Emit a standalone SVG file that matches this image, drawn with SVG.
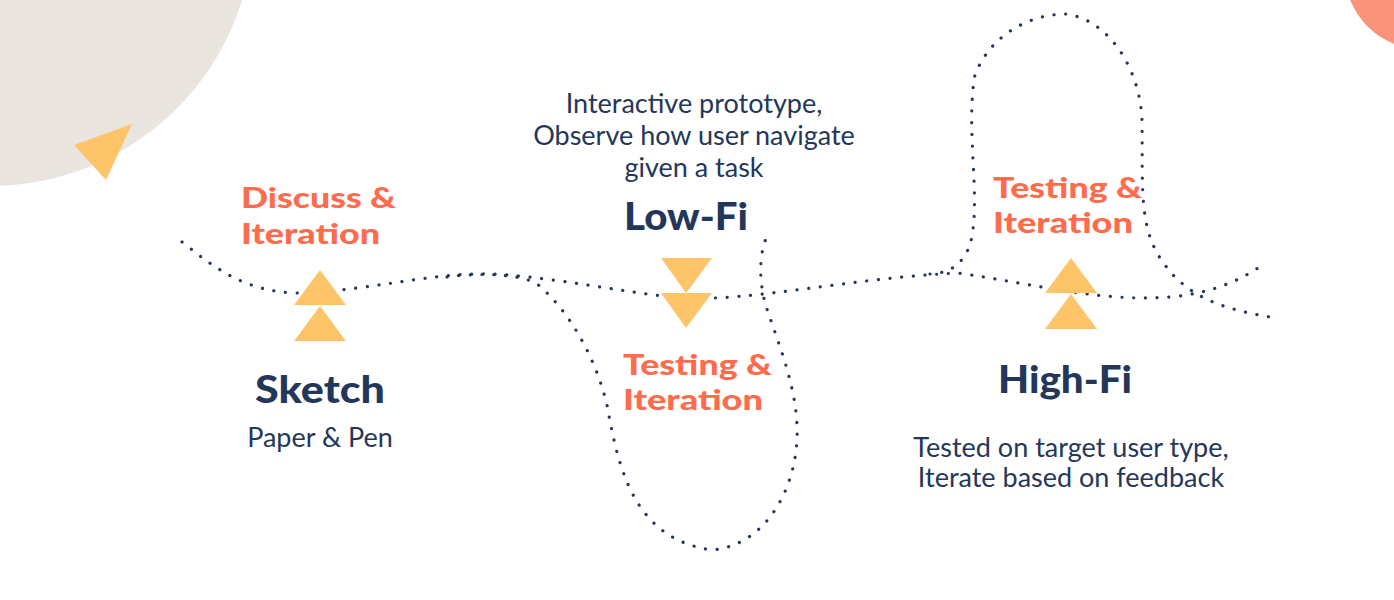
<svg xmlns="http://www.w3.org/2000/svg" width="1394" height="600" viewBox="0 0 1394 600">
<style>
.dot{fill:none;stroke:#24375a;stroke-width:3.2;stroke-linecap:round;stroke-dasharray:0.1 11.6}
.tri{fill:#fec46a}
.head{font-family:Lato,"Liberation Sans",sans-serif;font-weight:900;fill:#24375a;font-size:37px}
.lab{font-family:Lato,"Liberation Sans",sans-serif;font-weight:900;fill:#ff6b4d;font-size:29px}
.body{font-family:Lato,"Liberation Sans",sans-serif;font-weight:400;fill:#24375a;font-size:27px}
</style>
<rect width="1394" height="600" fill="#ffffff"/>
<g id="decor">
<circle cx="-10" cy="-78" r="264" fill="#eae6df"/>
<circle cx="1422" cy="-28" r="77" fill="#f9937a"/>
<polygon points="74,145 132,124 106,180" fill="#fec46a"/>
</g>
<g id="connectors">
<path class="dot" d="M182,242 C215,268 245,292 298,293 C370,291 430,272 493,274 C560,278 620,292 680,298 C750,302 850,278 958,273 C1040,285 1100,302 1170,297 C1215,293 1245,278 1265,263"/>
<path class="dot" d="M447,277 C475,273 515,273 536,283 C575,315 600,370 608,410 C620,480 640,540 712,550 C770,545 800,480 797,425 C795,380 775,335 765,303 C758,275 760,250 768,234"/>
<path class="dot" d="M930,274 C950,273 962,265 970,245 C982,200 965,130 975,75 C990,35 1030,14 1066,14 C1110,20 1140,70 1142,120 C1143,190 1138,230 1165,265 C1190,300 1230,310 1270,317"/>
</g>
<g id="node-sketch">
<polygon class="tri" points="320,270 346,305 294,305"/>
<polygon class="tri" points="320,306 346,341 294,341"/>
<text class="lab" x="241" y="208" textLength="155" lengthAdjust="spacingAndGlyphs">Discuss &amp;</text>
<text class="lab" x="241" y="244" textLength="139" lengthAdjust="spacingAndGlyphs">Iteration</text>
<text class="head" x="320" y="403" text-anchor="middle" textLength="130" lengthAdjust="spacingAndGlyphs">Sketch</text>
<text class="body" x="320" y="447" text-anchor="middle">Paper &amp; Pen</text>
</g>
<g id="node-lowfi">
<text class="body" x="694" y="113" text-anchor="middle">Interactive prototype,</text>
<text class="body" x="694" y="145" text-anchor="middle">Observe how user navigate</text>
<text class="body" x="694" y="177" text-anchor="middle">given a task</text>
<text class="head" x="686" y="230" text-anchor="middle" textLength="124" lengthAdjust="spacingAndGlyphs">Low-Fi</text>
<polygon class="tri" points="661,258 712,258 686,293"/>
<polygon class="tri" points="661,293 712,293 686,328"/>
<text class="lab" x="623" y="375" textLength="149" lengthAdjust="spacingAndGlyphs">Testing &amp;</text>
<text class="lab" x="623" y="410" textLength="140" lengthAdjust="spacingAndGlyphs">Iteration</text>
</g>
<g id="node-highfi">
<text class="lab" x="993" y="198" textLength="149" lengthAdjust="spacingAndGlyphs">Testing &amp;</text>
<text class="lab" x="993" y="233" textLength="140" lengthAdjust="spacingAndGlyphs">Iteration</text>
<polygon class="tri" points="1071,258 1097,293 1045,293"/>
<polygon class="tri" points="1071,294 1097,329 1045,329"/>
<text class="head" x="1065" y="393" text-anchor="middle" textLength="134" lengthAdjust="spacingAndGlyphs">High-Fi</text>
<text class="body" x="1071" y="457" text-anchor="middle">Tested on target user type,</text>
<text class="body" x="1071" y="487" text-anchor="middle">Iterate based on feedback</text>
</g>
</svg>
